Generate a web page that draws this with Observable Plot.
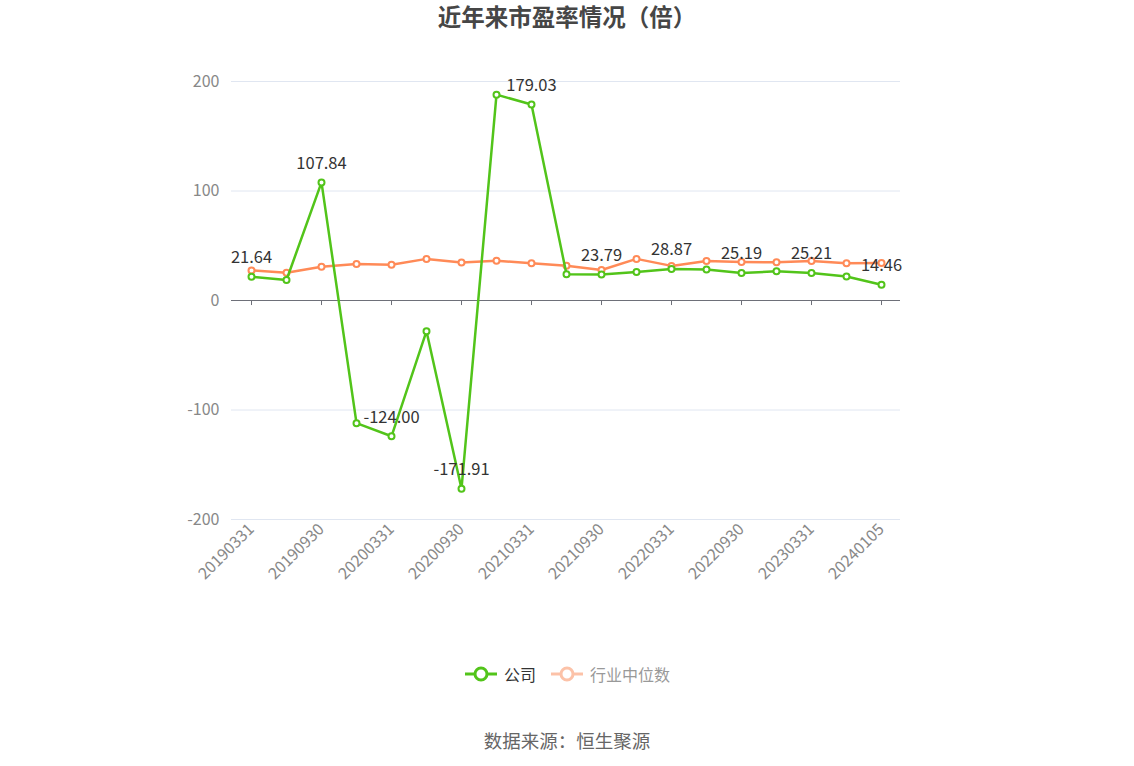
<!DOCTYPE html>
<html>
<head>
<meta charset="utf-8">
<script src="https://cdn.jsdelivr.net/npm/d3@7"></script>
<script src="https://cdn.jsdelivr.net/npm/@observablehq/plot@0.6"></script>
<style>
  html, body { margin: 0; padding: 0; background: #fff; }
  body { width: 1134px; height: 766px; position: relative; overflow: hidden;
         font-family: "Noto Sans CJK SC", "Noto Sans", sans-serif; }
  #title { position: absolute; top: -1px; left: 0; width: 1134px; text-align: center;
           font-size: 23.5px; font-weight: bold; color: #464646; }
  #chart { position: absolute; top: 0; left: 0; }
  #legend { position: absolute; top: 662px; left: 0; width: 1134px; display: flex;
            justify-content: center; gap: 14px; font-size: 16px; }
  #legend .item { display: flex; align-items: center; gap: 6px; }
  #caption { position: absolute; top: 727px; left: 0; width: 1134px; text-align: center;
             font-size: 18.5px; color: #666; }
</style>
</head>
<body>
<div id="title">近年来市盈率情况（倍）</div>
<div id="chart"></div>
<div id="legend"></div>
<div id="caption">数据来源：恒生聚源</div>
<script>
const dates = ["20190331","20190630","20190930","20191231","20200331","20200630","20200930","20201231",
  "20210331","20210630","20210930","20211231","20220331","20220630","20220930","20221231",
  "20230331","20230930","20240105"];
const company = [21.64, 18.7, 107.84, -112, -124.00, -28, -171.91, 188, 179.03, 23.9, 23.79, 26.0,
  28.87, 28.4, 25.19, 26.6, 25.21, 22.0, 14.46];
const industry = [27.5, 25.4, 30.9, 33.4, 32.7, 38.0, 34.6, 36.4, 34.0, 31.8, 27.9, 38.0,
  31.6, 36.1, 35.2, 34.9, 36.1, 34.0, 34.3];
const seriesNames = ["公司", "行业中位数"];
const yTicks = [-200, -100, 0, 100, 200];
const labelDates = dates.filter((d, i) => i % 2 === 0);

const green = "#52c41a", orange = "#ff8a57";
const compData = dates.map((d, i) => ({date: d, value: company[i]}));
const indData = dates.map((d, i) => ({date: d, value: industry[i]}));
const labelData = compData.filter((d, i) => i % 2 === 0);

const chart = Plot.plot({
  width: 1134,
  height: 600,
  marginTop: 81,
  marginBottom: 81,
  marginLeft: 231,
  marginRight: 234,
  style: {fontFamily: '"Noto Sans CJK SC", "Noto Sans", sans-serif', background: "transparent"},
  x: {type: "point", domain: dates, padding: 0.5},
  y: {domain: [-200, 200]},
  marks: [
    Plot.gridY(yTicks.filter(t => t !== 0), {stroke: "#e0e6f1", strokeOpacity: 1}),
    Plot.ruleY([0], {stroke: "#6e7079", strokeWidth: 1}),
    Plot.ruleX(labelDates, {x: d => d, y1: 0, y2: -4.6, stroke: "#6e7079"}),
    Plot.axisY({ticks: yTicks, tickFormat: d => String(d), tickSize: 0, tickPadding: 12, fontSize: 16, color: "#888", label: null}),
    Plot.axisX({ticks: labelDates, tickSize: 0, tickPadding: 7, tickRotate: -45, fontSize: 16, color: "#888", label: null}),
    Plot.line(indData, {x: "date", y: "value", stroke: orange, strokeWidth: 2.5}),
    Plot.dot(indData, {x: "date", y: "value", r: 3, fill: "#fff", stroke: orange, strokeWidth: 2}),
    Plot.line(compData, {x: "date", y: "value", stroke: green, strokeWidth: 2.5}),
    Plot.dot(compData, {x: "date", y: "value", r: 3, fill: "#fff", stroke: green, strokeWidth: 2}),
    Plot.text(labelData, {x: "date", y: "value", text: d => d.value.toFixed(2), dy: -19,
      fontSize: 16.5, fill: "#333"})
  ]
});
document.getElementById("chart").appendChild(chart);

const legend = document.getElementById("legend");
const legendColors = [green, "#fcc2a8"];
const textColors = ["#333", "#999"];
seriesNames.forEach((name, i) => {
  const item = document.createElement("div");
  item.className = "item";
  item.innerHTML = `<svg width="34" height="20"><line x1="1" y1="10" x2="33" y2="10" stroke="${legendColors[i]}" stroke-width="3"/>
    <circle cx="17" cy="10" r="6" fill="#fff" stroke="${legendColors[i]}" stroke-width="3"/></svg>
    <span style="color:${textColors[i]}">${name}</span>`;
  legend.appendChild(item);
});
</script>
</body>
</html>
